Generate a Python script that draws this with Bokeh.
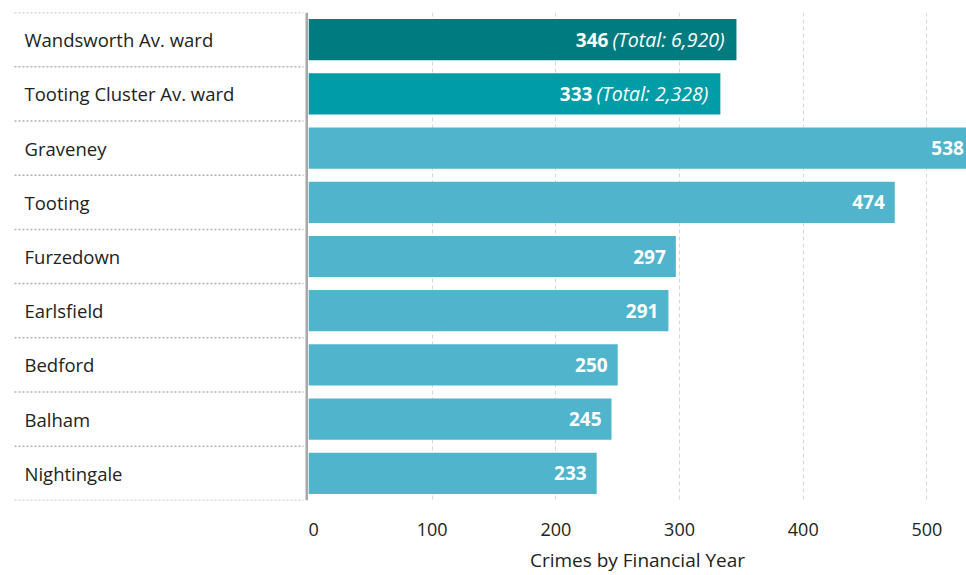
import numpy as np
from bokeh.plotting import figure
from bokeh.layouts import row
from bokeh.models import Range1d, FixedTicker, ColumnDataSource
from bokeh.core.properties import value
from bokeh.embed import file_html
from bokeh.resources import INLINE

categories = ["Wandsworth Av. ward", "Tooting Cluster Av. ward", "Graveney", "Tooting",
              "Furzedown", "Earlsfield", "Bedford", "Balham", "Nightingale"]
crimes = [346, 333, 538, 474, 297, 291, 250, 245, 233]
totals = [6920, 2328]
tick_values = [0, 100, 200, 300, 400, 500]
axis_title = "Crimes by Financial Year"

colors = ["#007B80", "#009DA6"] + ["#50B4CC"] * (len(categories) - 2)
FONT = "Open Sans"
TOP, BOTTOM, H = 12, 75, 575

n = len(categories)
pos = np.arange(n) + 0.5
y_range = Range1d(start=n, end=0)

# ---- left label panel ----
left = figure(width=308, height=H, min_border_top=TOP, min_border_left=0,
              min_border_right=0, min_border_bottom=BOTTOM, x_range=Range1d(0, 308),
              y_range=y_range, x_axis_location=None, y_axis_location=None,
              output_backend="svg", toolbar_location=None, outline_line_color=None)
left.grid.visible = False
left.segment(x0=14, x1=303, y0=np.arange(n + 1), y1=np.arange(n + 1),
             line_color="#b3b3b3", line_width=1.5, line_dash="2 2")
left.text(x=24, y=pos, text=categories, text_baseline="middle", text_align="left",
          text_font=value(FONT), text_font_size="18.5px", text_color="#222222")
left.segment(x0=306.5, x1=306.5, y0=0, y1=n, line_color="#a8a8a8", line_width=3)

# ---- right bar chart ----
p = figure(width=658, height=H, min_border_top=TOP, min_border_left=0,
           min_border_right=0, min_border_bottom=BOTTOM, x_range=Range1d(0, 532),
           y_range=y_range, y_axis_location=None, output_backend="svg",
           toolbar_location=None, outline_line_color=None)
p.ygrid.visible = False
p.xgrid.grid_line_color = "#d6d6d6"
p.xgrid.grid_line_dash = "4 3"
p.xgrid.grid_line_width = 1
p.xaxis.ticker = FixedTicker(ticks=tick_values)
p.xaxis.axis_line_color = None
p.xaxis.major_tick_line_color = None
p.xaxis.minor_tick_line_color = None
p.xaxis.major_tick_out = 0
p.xaxis.major_tick_in = 0
p.xaxis.major_label_standoff = 22
p.xaxis.major_label_text_font = FONT
p.xaxis.major_label_text_font_size = "18px"
p.xaxis.major_label_text_line_height = 1.0
p.xaxis.major_label_text_color = "#222222"
p.xaxis.axis_label = axis_title
p.xaxis.axis_label_text_font = FONT
p.xaxis.axis_label_text_font_size = "19px"
p.xaxis.axis_label_text_line_height = 1.0
p.xaxis.axis_label_text_font_style = "normal"
p.xaxis.axis_label_text_color = "#222222"
p.xaxis.axis_label_standoff = 8

src = ColumnDataSource(dict(y=pos, v=crimes, c=colors))
p.hbar(y="y", left=0, right="v", height=0.76, fill_color="c", line_color=None, source=src)

# plain labels (rows without totals)
k = len(totals)
p.text(x=crimes[k:], y=pos[k:], text=[str(v) for v in crimes[k:]], text_align="right",
       text_baseline="middle", x_offset=-10, text_font=value(FONT),
       text_font_size="19px", text_font_style="bold", text_color="white")
# rows with totals
tot_txt = [f"(Total: {t:,})" for t in totals]
p.text(x=crimes[:k], y=pos[:k], text=tot_txt, text_align="right", text_baseline="middle",
       x_offset=-12, text_font=value(FONT), text_font_size="19.5px",
       text_font_style="italic", text_color="white")
p.text(x=crimes[:k], y=pos[:k], text=[str(v) for v in crimes[:k]], text_align="right",
       text_baseline="middle", x_offset=-128, text_font=value(FONT),
       text_font_size="19px", text_font_style="bold", text_color="white")

layout = row(left, p, spacing=0)
open("out.html", "w").write(file_html(layout, INLINE))
